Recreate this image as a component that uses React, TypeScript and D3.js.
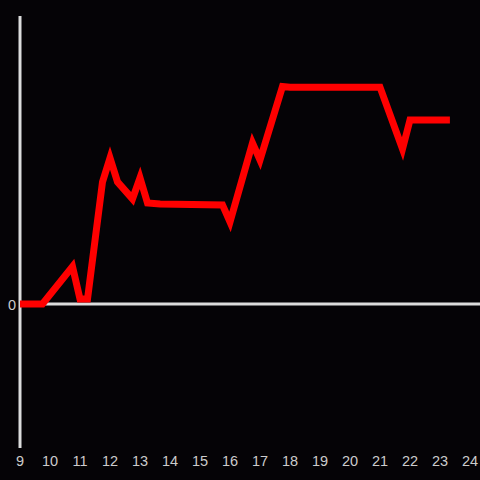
import React from "react";
import * as d3 from "d3";

const hours: number[] = [9, 9.75, 10.75, 11, 11.25, 11.75, 12, 12.25, 12.75, 13, 13.25, 13.67, 15.75, 16, 16.75, 17, 17.75, 18, 21, 21.75, 22, 23.33];
const values: number[] = [0, 0, 13, 1.7, 1.7, 42.4, 50.7, 42.4, 36.5, 43.8, 35.1, 34.7, 34.4, 28.5, 55.9, 50, 75.5, 75.3, 75.3, 53.8, 63.9, 63.9];
const xTicks: number[] = [9, 10, 11, 12, 13, 14, 15, 16, 17, 18, 19, 20, 21, 22, 23, 24];
const yTicks: number[] = [0];

export default function App() {
  const W = 480, H = 480;
  const x = d3.scaleLinear().domain([9, 24]).range([20, 470]);
  const y = d3.scaleLinear().domain([-50, 100]).range([448, 16]);
  const data = hours.map((h, i) => [h, values[i]] as [number, number]);
  const line = d3.line<[number, number]>().x(d => x(d[0])).y(d => y(d[1]));
  const axisColor = "#dcdcdc";
  const font = "Liberation Sans, Arial, sans-serif";
  return (
    <svg width={W} height={H} style={{ position: "absolute", left: 0, top: 0, background: "#050306" }}>
      <rect x={0} y={0} width={W} height={H} fill="#050306" />
      <line x1={x(9)} x2={x(9)} y1={y(100)} y2={y(-50)} stroke={axisColor} strokeWidth={3} />
      <line x1={x(9)} x2={W} y1={y(0)} y2={y(0)} stroke={axisColor} strokeWidth={3} />
      <path d={line(data) || ""} fill="none" stroke="#ff0000" strokeWidth={7} strokeLinejoin="miter" />
      {xTicks.map(t => (
        <text key={t} x={x(t)} y={466} textAnchor="middle" fill="#cccccc" fontSize={14.5} fontFamily={font}>{t}</text>
      ))}
      {yTicks.map(t => (
        <text key={t} x={16} y={y(t) + 6} textAnchor="end" fill="#cccccc" fontSize={14.5} fontFamily={font}>{t}</text>
      ))}
    </svg>
  );
}
